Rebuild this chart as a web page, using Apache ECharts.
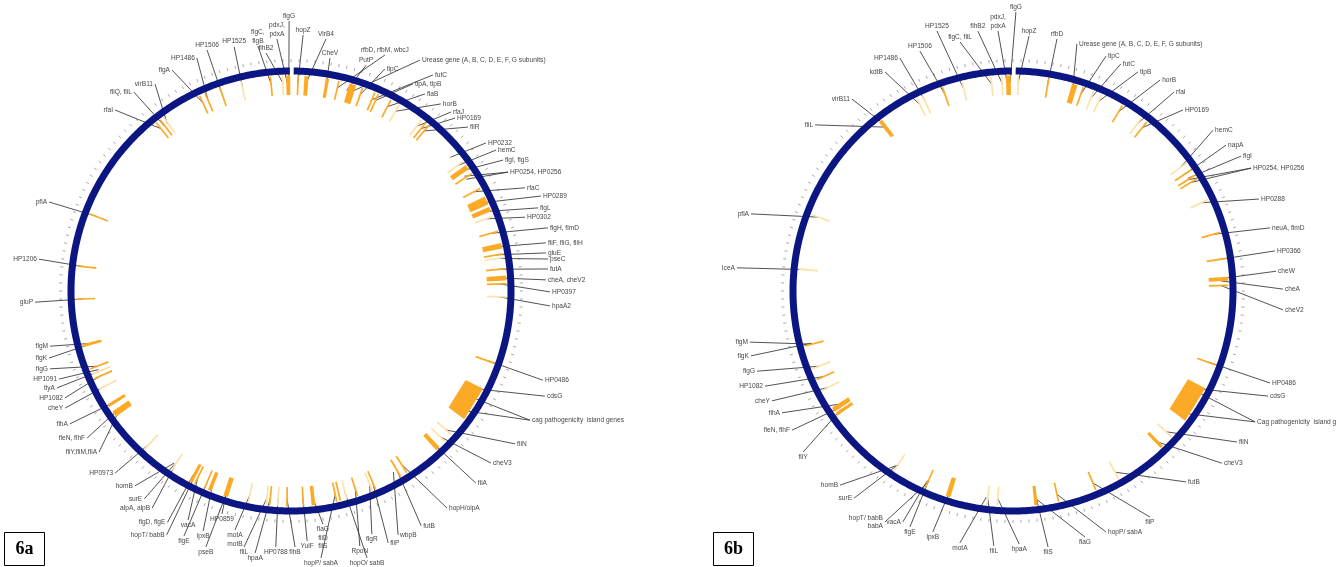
<!DOCTYPE html>
<html>
<head>
<meta charset="utf-8">
<script src="https://cdn.jsdelivr.net/npm/echarts/dist/echarts.min.js"></script>
<style>
  html, body { margin: 0; padding: 0; background: #fff; }
  #chart { width: 1336px; height: 567px; }
</style>
</head>
<body>
<div id="chart"></div>
<script>
// Genome maps of two strains: gene positions are given in degrees clockwise
// from the origin of replication at the top of each circle.

// ---- panel 6a ----
const genesA = [
  ['rfaI', 321.3], ['fliQ, fliL', 322.5], ['virB11', 323.5], ['flgA', 334.9], ['HP1486', 336.5],
  ['HP1506', 340.7], ['HP1525', 346.6], ['flgC,\nflgB', 354.5], ['flhB2', 357.8], ['pdxJ,\npdxA', 359.0],
  ['flgG', 359.4], ['hopZ', 1.9], ['VirB4', 4.1], ['CheV', 9.7], ['rfbD, rfbM, wbcJ', 12.8],
  ['PutP', 15.5], ['Urease gene (A, B, C, D, E, F, G subunits)', 16.8], ['tlpC', 19.4], ['futC', 23.0],
  ['tlpA, tlpB', 23.8], ['flaB', 27.6], ['horB', 30.2], ['rfaJ', 37.5], ['HP0169', 38.7], ['fliR', 39.7],
  ['HP0232', 50.0], ['hemC', 53.0], ['flgI, flgS', 54.8], ['HP0254, HP0256', [56.5, 57.5]], ['rfaC', 61.5],
  ['HP0289', 65.0], ['flgL', 67.6], ['HP0302', 69.7], ['flgH, flmD', 73.9], ['fliF, fliG, fliH', 77.8],
  ['gluE', 80.0], ['pseC', 81.0], ['futA', 84.0], ['cheA, cheV2', 86.4], ['HP0397', 88.0],
  ['hpaA2', 91.6], ['HP0486', 109.5], ['cdsG', 118.0], ['cag pathogenicity  island genes', [120.5, 125.0]],
  ['fliN', 131.9], ['cheV3', 134.4], ['fliA', 137.0], ['hopH/oipA', 147.3], ['futB', 149.4],
  ['wbpB', 150.5], ['fliP', 156.9], ['flgR', 157.8], ['RpoN', 162.0], ['hopO/ sabB', 165.0],
  ['hopP/ sabA', 167.7], ['flaG\nfliD\nfliS', 174.0], ['YuiF', 176.7], ['flhB', 181.1], ['HP0788', 183.6],
  ['hpaA', 185.7], ['fliL', 186.6], ['motA\nmotB', 191.4], ['pseB', 197.6], ['HP0859', 197.9],
  ['lpxB', 202.1], ['flgE', 203.7], ['vacA', 206.6], ['hopT/ babB', 207.5], ['flgD, flgE', 208.0],
  ['alpA, alpB', 213.7], ['surE', 213.9], ['homB', 214.2], ['HP0973', 222.8], ['fliY,fliM,fliA', 235.4],
  ['fleN, flhF', 235.6], ['flhA', 237.8], ['cheY', 242.9], ['HP1082', 246.0], ['tlyA', 247.3],
  ['HP1091', 247.8], ['flgG', 248.8], ['flgK', 255.2], ['flgM', 255.4], ['gluP', 267.8],
  ['HP1206', 276.7], ['pflA', 291.0]
];
const marksA = [
  [321.0, 321.6], [322.3, 322.9], [334.6, 335.2], [336.2, 336.8], [340.4, 341.0], [354.2, 354.8],
  [358.7, 359.8], [1.6, 2.2], [3.6, 4.7], [9.3, 10.2], [12.5, 13.2], [15.7, 17.6], [19.1, 19.7],
  [22.6, 23.2], [23.6, 24.2], [27.3, 27.9], [38.4, 39.0], [39.5, 40.0], [54.2, 55.6], [56.7, 57.3],
  [61.2, 61.8], [64.0, 66.3], [67.0, 68.3], [73.6, 74.2], [77.1, 78.6], [79.8, 80.3], [83.8, 84.3],
  [85.9, 87.2], [87.8, 88.3], [109.3, 109.8], [117.0, 126.5], [136.4, 137.6], [147.2, 147.8],
  [149.1, 149.7], [156.6, 157.2], [161.7, 162.3], [166.5, 167.0], [167.5, 168.0], [173.5, 174.5],
  [176.4, 177.0], [180.8, 181.4], [185.4, 186.0], [197.0, 198.3], [201.7, 202.7], [203.4, 204.0],
  [206.2, 206.9], [207.2, 208.1], [234.3, 236.0], [237.4, 238.3], [245.6, 246.3], [248.5, 249.1],
  [254.9, 255.7], [267.5, 268.1], [276.4, 277.0], [290.6, 291.3]
];
const faintMarksA = [
  [323.5, 324.0], [346.3, 346.8], [357.5, 358.0], [29.9, 30.4], [37.1, 37.6], [52.7, 53.3],
  [69.4, 70.0], [80.8, 81.3], [91.3, 91.9], [131.6, 132.1], [134.1, 134.6], [157.6, 158.1],
  [164.7, 165.2], [183.3, 183.8], [186.4, 186.9], [191.1, 191.7], [213.4, 214.0], [222.5, 223.1],
  [242.6, 243.2], [247.0, 247.6]
];

// ---- panel 6b ----
const genesB = [
  ['fliL', 322.0], ['virB11', 322.5], ['kdtB', 333.5], ['HP1486', 335.2], ['HP1506', 340.9],
  ['HP1525', 346.3], ['flgC, fliL', 354.1], ['flhB2', 357.0], ['pdxJ,\npdxA', 358.4], ['flgG', 359.2],
  ['hopZ', 1.4], ['rfbD', 9.5], ['Urease gene (A, B, C, D, E, F, G subunits)', 16.6], ['tlpC', 19.0],
  ['futC', 22.0], ['tlpB', 24.3], ['horB', 30.5], ['rfaI', 36.6], ['HP0169', 38.3], ['hemC', 53.6],
  ['napA', 55.8], ['flgI', 57.2], ['HP0254, HP0256', [57.6, 58.6]], ['HP0288', 64.9],
  ['neuA, flmD', 74.2], ['HP0366', 81.3], ['cheW', 86.6], ['cheA', 87.2], ['cheV2', 88.5],
  ['HP0486', 110.0], ['cdsG', 118.0], ['Cag pathogenicity  island genes', [118.7, 125.9]],
  ['fliN', 132.6], ['cheV3', 136.4], ['futB', 150.6], ['fliP', 157.4], ['hopP/ sabA', 167.8],
  ['flaG', 174.0], ['fliS', 173.6], ['hpaA', 184.2], ['fliL', 187.0], ['motA', 187.4],
  ['lpxB', 197.5], ['flgE', 204.0], ['vacA', 204.3], ['hopT/ babB\nbabA', 203.8], ['surE', 213.5],
  ['homB', 213.3], ['fliY', 235.5], ['fleN, flhF', 236.0], ['flhA', 237.0], ['cheY', 242.4],
  ['HP1082', 245.7], ['flgG', 248.8], ['flgK', 255.5], ['flgM', 255.2], ['IceA', 275.9], ['pflA', 290.8]
];
const marksB = [
  [321.5, 322.6], [340.6, 341.2], [358.1, 359.4], [9.2, 9.9], [15.9, 17.4], [18.7, 19.3],
  [30.2, 30.8], [38.0, 38.7], [55.4, 56.1], [57.2, 57.8], [58.3, 58.9], [73.9, 74.5], [81.0, 81.6],
  [86.2, 87.3], [88.2, 88.8], [109.7, 110.4], [116.8, 127.0], [135.9, 136.8], [157.1, 157.7],
  [167.5, 168.1], [173.4, 174.3], [196.9, 198.2], [203.7, 204.4], [234.6, 235.5], [235.9, 237.2],
  [245.4, 246.0], [254.9, 255.5]
];
const faintMarksB = [
  [333.2, 333.7], [334.9, 335.4], [346.0, 346.6], [353.8, 354.4], [356.7, 357.3], [1.1, 1.7],
  [21.7, 22.3], [24.0, 24.6], [36.3, 36.9], [53.3, 53.9], [64.6, 65.2], [132.3, 132.9],
  [150.3, 150.9], [183.9, 184.5], [186.7, 187.3], [213.2, 213.8], [242.1, 242.7], [248.5, 249.1],
  [275.6, 276.2], [290.5, 291.1]
];

// Label placement: [angle, radius, side] of the point where each leader ends.
// side: E = text right of the point, W = left, N = above, S = below.
const labelSpotsA = [
  [315.8, 252.5, 'W'], [321.7, 253.5, 'W'], [326.7, 247.7, 'W'], [331.7, 251, 'W'], [338.0, 251.2, 'W'],
  [340.8, 255.2, 'N'], [346.9, 250.6, 'N'], [352.3, 247.2, 'N'], [354.0, 239.3, 'N'], [356.8, 252.4, 'N'],
  [359.6, 270, 'N'], [2.7, 256.3, 'N'], [7.9, 254.4, 'N'], [9.5, 236.2, 'N'], [21.7, 254, 'N'],
  [18.4, 238, 'N'], [29.2, 264.6, 'E'], [22.9, 241, 'E'], [33.3, 258.5, 'E'],
  [30.5, 240.3, 'E'], [34.2, 238.3, 'E'], [38.7, 239.7, 'E'], [41.8, 240.1, 'E'], [43.5, 238.4, 'E'], [47.2, 241.3, 'E'],
  [52.8, 244.8, 'E'], [55.5, 248.8, 'E'], [58.3, 249.2, 'E'], [61.3, 247.5, 'E'], [66.2, 255.7, 'E'],
  [69.2, 267.4, 'E'], [71.4, 260.6, 'E'], [72.5, 245.4, 'E'], [76.2, 264.6, 'E'], [79.3, 259.5, 'E'],
  [81.5, 257.8, 'E'], [82.9, 259, 'E'], [85.1, 257.9, 'E'], [87.5, 255.2, 'E'], [90.2, 259, 'E'],
  [93.3, 259.4, 'E'], [109.5, 267.3, 'E'], [112.5, 274.8, 'E'], [118.4, 271.6, 'E'],
  [124.3, 271.3, 'E'], [130.7, 263.8, 'E'], [136.1, 266.6, 'E'], [144.3, 267.3, 'E'], [151.0, 268.6, 'E'],
  [156.3, 266.4, 'E'], [158.9, 270, 'E'], [161.6, 256.1, 'S'], [164.9, 264.2, 'S'], [164.1, 277.6, 'S'],
  [173.6, 268.7, 'S'], [172.2, 235.2, 'S'], [176.3, 250.5, 'S'], [179.1, 256, 'S'], [183.4, 256.4, 'S'],
  [187.8, 264.5, 'S'], [190.4, 260.3, 'S'], [193.2, 245.5, 'S'], [198.4, 269.7, 'S'], [197.2, 233.4, 'S'],
  [200.1, 255.6, 'S'], [203.6, 267.3, 'S'], [204.2, 251.1, 'S'], [207.0, 273.7, 'W'], [208.1, 262.4, 'W'],
  [212.6, 257.7, 'W'], [215.2, 254.6, 'W'], [218.7, 249.7, 'W'], [224.0, 253.2, 'W'], [230.0, 250.6, 'W'],
  [234.2, 251.4, 'W'], [239.0, 257.9, 'W'], [242.6, 254.5, 'W'], [244.7, 250, 'W'], [247.5, 253.3, 'W'],
  [249.2, 248.1, 'W'], [252.1, 253.3, 'W'], [254.5, 251.1, 'W'], [257.1, 247.2, 'W'], [267.5, 256.2, 'W'],
  [277.2, 254, 'W'], [290.2, 257.8, 'W']
];
const labelSpotsB = [
  [310.0, 258.4, 'W'], [320.0, 250.6, 'W'], [329.7, 253.7, 'W'], [334.1, 259, 'W'], [338.8, 257.4, 'N'],
  [343.7, 270.9, 'N'], [348.0, 254.6, 'N'], [352.3, 262.3, 'N'], [356.7, 260.4, 'N'], [0.6, 279, 'N'],
  [3.6, 255.5, 'N'], [9.9, 255.8, 'N'], [14.5, 255.2, 'E'], [21.6, 252.7, 'E'],
  [25.4, 251.4, 'E'], [29.7, 252.2, 'E'], [34.9, 257.2, 'E'], [39.0, 256, 'E'], [43.2, 248.3, 'E'], [51.2, 256.7, 'E'],
  [55.6, 258.2, 'E'], [59.4, 265, 'E'], [62.7, 267.9, 'E'], [69.5, 262.6, 'E'],
  [76.2, 264.6, 'E'], [81.3, 265, 'E'], [85.7, 263.8, 'E'], [89.6, 270, 'E'], [94.0, 270.7, 'E'],
  [109.7, 273, 'E'], [112.4, 275.8, 'E'], [118.4, 275.2, 'E'],
  [124.0, 270.1, 'E'], [129.5, 270.7, 'E'], [137.8, 257.7, 'E'], [148.8, 264.3, 'S'], [158.9, 258.3, 'E'],
  [163.7, 256.3, 'S'], [172.2, 258.4, 'S'], [178.6, 253.1, 'S'], [184.3, 255.7, 'S'], [191.9, 257.5, 'S'],
  [198.4, 253.9, 'S'], [203.6, 257.5, 'S'], [205.5, 255.8, 'W'], [209.0, 264.1, 'W'], [217.5, 261, 'W'],
  [221.7, 260, 'W'], [232.5, 264.6, 'S'], [237.8, 261.1, 'W'], [242.2, 261.2, 'W'], [245.5, 264.9, 'W'],
  [249.0, 265.6, 'W'], [252.6, 268.2, 'W'], [256.1, 270, 'W'], [259.0, 267.9, 'W'], [274.8, 277, 'W'], [286.4, 273.1, 'W']
];

// ---- drawing constants ----
const RING_R = 220;
const RING_GAP = 0.7;
const MARK_IN = 196, MARK_OUT = 215.5;
const THIN_SPAN = 0.75;            // spans up to this many degrees are drawn as a single stroke
const LEAD_FROM = 208;
const NAVY = '#0b1682';
const ORANGE = '#fcaa26';
const ORANGE_FAINT = '#fde2ab';
const LEAD = '#404040';
const TEXT = '#474747';
const FONT = '6.6px "Liberation Sans", Arial, sans-serif';

const chart = echarts.init(document.getElementById('chart'), null, { renderer: 'canvas' });

function polarAxes(i) {
  return {
    angle: {
      polarIndex: i, type: 'value', min: 0, max: 360, interval: 2,
      startAngle: 90, clockwise: true,
      axisLine: { show: false }, axisLabel: { show: false }, splitLine: { show: false },
      axisTick: { show: true, length: 3, lineStyle: { color: '#a8a8a8', width: 1 } }
    },
    radius: {
      polarIndex: i, type: 'value', min: 0, max: 229,
      axisLine: { show: false }, axisTick: { show: false }, axisLabel: { show: false }, splitLine: { show: false }
    }
  };
}

function ringSeries(i) {
  return {
    type: 'custom', coordinateSystem: 'polar', polarIndex: i, z: 3, silent: true,
    data: [[RING_R, 0]],
    renderItem: function (params, api) {
      const pts = [];
      for (let a = RING_GAP; a <= 360.001; a += 0.5) pts.push(api.coord([RING_R, a]));
      return { type: 'polyline', shape: { points: pts }, style: { stroke: NAVY, lineWidth: 7, fill: null } };
    }
  };
}

function markSeries(i, marks, color) {
  return {
    type: 'custom', coordinateSystem: 'polar', polarIndex: i, z: 2, silent: true,
    data: marks.map(m => [MARK_OUT, m[0], m[1]]),
    renderItem: function (params, api) {
      const s = api.value(1), e = api.value(2);
      if (e - s <= THIN_SPAN) {
        const mid = (s + e) / 2;
        const p0 = api.coord([MARK_IN, mid]), p1 = api.coord([MARK_OUT, mid]);
        return { type: 'line', shape: { x1: p0[0], y1: p0[1], x2: p1[0], y2: p1[1] },
                 style: { stroke: color, lineWidth: 1.7 } };
      }
      return {
        type: 'polygon',
        shape: { points: [api.coord([MARK_IN, s]), api.coord([MARK_OUT, s]), api.coord([MARK_OUT, e]), api.coord([MARK_IN, e])] },
        style: { fill: color }
      };
    }
  };
}

function labelSeries(i, genes, spots) {
  return {
    type: 'custom', coordinateSystem: 'polar', polarIndex: i, z: 1, silent: true,
    data: spots.map((s, k) => [s[1], s[0], k]),
    renderItem: function (params, api) {
      const k = api.value(2);
      const gene = genes[k], spot = spots[k];
      const end = api.coord([spot[1], spot[0]]);
      const targets = Array.isArray(gene[1]) ? gene[1] : [gene[1]];
      const children = targets.map(g => {
        const p = api.coord([LEAD_FROM, g]);
        return { type: 'line', shape: { x1: p[0], y1: p[1], x2: end[0], y2: end[1] },
                 style: { stroke: LEAD, lineWidth: 0.9 } };
      });
      let x = end[0], y = end[1], align = 'center', va = 'middle';
      if (spot[2] === 'E') { x += 2; align = 'left'; }
      else if (spot[2] === 'W') { x -= 2; align = 'right'; }
      else if (spot[2] === 'N') { y -= 1; va = 'bottom'; }
      else { y += 1; va = 'top'; }
      children.push({
        type: 'text', z2: 5,
        style: { text: gene[0], x: x, y: y, align: align, verticalAlign: va,
                 fill: TEXT, font: FONT, lineHeight: 8.5 }
      });
      return { type: 'group', children: children };
    }
  };
}

const ax0 = polarAxes(0), ax1 = polarAxes(1);

function panelTag(x, txt) {
  return {
    type: 'group', silent: true,
    children: [
      { type: 'rect', shape: { x: x + 0.5, y: 532.5, width: 40, height: 33 },
        style: { fill: '#fff', stroke: '#000', lineWidth: 1 } },
      { type: 'text', style: { text: txt, x: x + 20.5, y: 549.5, align: 'center', verticalAlign: 'middle',
        font: 'bold 18px "Liberation Serif", "Times New Roman", serif', fill: '#000' } }
    ]
  };
}

chart.setOption({
  backgroundColor: '#ffffff',
  animation: false,
  polar: [
    { center: [291, 291], radius: [0, 229] },
    { center: [1013, 291], radius: [0, 229] }
  ],
  angleAxis: [ax0.angle, ax1.angle],
  radiusAxis: [ax0.radius, ax1.radius],
  series: [
    labelSeries(0, genesA, labelSpotsA),
    markSeries(0, faintMarksA, ORANGE_FAINT),
    markSeries(0, marksA, ORANGE),
    ringSeries(0),
    labelSeries(1, genesB, labelSpotsB),
    markSeries(1, faintMarksB, ORANGE_FAINT),
    markSeries(1, marksB, ORANGE),
    ringSeries(1)
  ],
  graphic: [panelTag(4, '6a'), panelTag(713, '6b')]
});
</script>
</body>
</html>
